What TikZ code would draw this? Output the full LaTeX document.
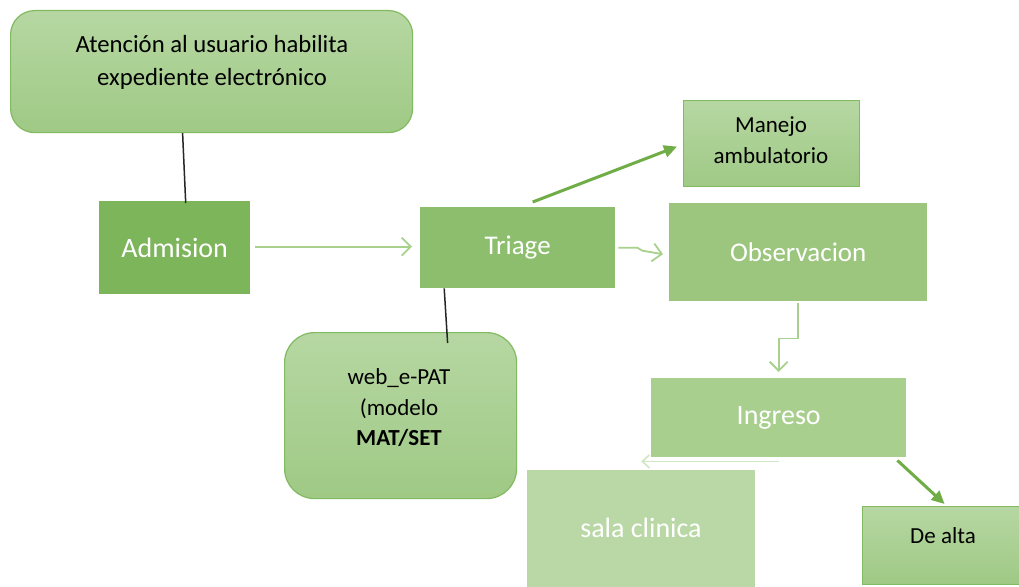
\documentclass[tikz,border=0pt]{standalone}
\usepackage{fontspec}
\setmainfont{Carlito}
\usetikzlibrary{arrows.meta}
\definecolor{gtop}{HTML}{B6D7A2}
\definecolor{gbot}{HTML}{9FC985}
\definecolor{gbord}{HTML}{82BA62}
\definecolor{cadm}{HTML}{7DB55A}
\definecolor{ctri}{HTML}{8CBE6E}
\definecolor{cobs}{HTML}{9CC67E}
\definecolor{cing}{HTML}{A9CF8F}
\definecolor{csal}{HTML}{B9D8A5}
\definecolor{darrow}{HTML}{70AD47}
\definecolor{larrow}{HTML}{A9D18E}
\definecolor{vlarrow}{HTML}{D2E6C5}
\tikzset{
  gbox/.style={draw=gbord, line width=1.2pt, top color=gtop, bottom color=gbot, inner sep=0pt},
  fbox/.style={inner sep=0pt, font=\fontsize{27}{32}\selectfont, text=white},
  btext/.style={font=\fontsize{23}{30.5}\selectfont, align=center, text=black},
  larr/.style={draw=larrow, line width=1.8pt, -{Straight Barb[length=9pt,width=18pt,line width=1.8pt]}},
  vlarr/.style={draw=vlarrow, line width=1.8pt, -{Straight Barb[length=7pt,width=13pt,line width=1.6pt]}},
  darr/.style={draw=darrow, line width=3pt, -{Triangle[length=13pt,width=12pt]}},
  bline/.style={draw=black!85, line width=1.5pt}
}
\begin{document}
\begin{tikzpicture}[x=1pt,y=-1pt]
\clip (0,0) rectangle (1019,586);
\fill[white] (0,0) rectangle (1019,586);
% boxes
\node[gbox, rounded corners=24pt, minimum width=402pt, minimum height=122pt, anchor=north west] (aten) at (10,10) {};
\node[btext, font=\fontsize{24.7}{33}\selectfont] (atent) at (212,62) {Atención al usuario habilita\\expediente electrónico};
\node[fbox, fill=cadm, minimum width=151pt, minimum height=93pt, anchor=north west, font=\fontsize{28}{32}\selectfont] (adm) at (99,201) {Admision};
\node[fbox, fill=ctri, minimum width=195pt, minimum height=81pt, anchor=north west] (tri) at (420,207) {Triage};
\node[gbox, rounded corners=30pt, minimum width=232pt, minimum height=166pt, anchor=north west] (web) at (284,332) {};
\node[btext] (webt) at (399,408) {web\_e-PAT\\(modelo\\\textbf{MAT/SET}};
\node[gbox, minimum width=176pt, minimum height=86pt, anchor=north west] (man) at (683,100) {};
\node[btext] (mant) at (771,140) {Manejo\\ambulatorio};
\node[fbox, fill=cobs, minimum width=258pt, minimum height=98pt, anchor=north west] (obs) at (669,203) {Observacion};
\node[fbox, fill=cing, minimum width=255pt, minimum height=79pt, anchor=north west, font=\fontsize{28}{32}\selectfont] (ing) at (651,378) {Ingreso};
\node[fbox, fill=csal, minimum width=228pt, minimum height=120pt, anchor=north west, font=\fontsize{28}{32}\selectfont] (sal) at (527,470) {};
\node[fbox, font=\fontsize{28}{32}\selectfont] (salt) at (641,528) {sala clinica};
\node[gbox, minimum width=164pt, minimum height=78pt, anchor=north west] (alta) at (862,506) {};
\node[btext] (altat) at (943,536) {De alta};
% connectors
\draw[bline] ([xshift=-29pt]aten.south) -- ([xshift=11pt,yshift=-2pt]adm.north);
\draw[bline] ([xshift=-73.5pt]tri.south) -- ([xshift=47pt,yshift=-11pt]web.north);
\coordinate (ae) at ([xshift=5pt,yshift=1pt]adm.east);
\draw[larr] (ae) -- ([xshift=-8pt]tri.west |- ae);
\draw[darr] ([xshift=15pt,yshift=5pt]tri.north) -- ([xshift=-6pt,yshift=-3pt]man.west);
\coordinate (tk) at ([xshift=22pt]tri.east);
\draw[larr] ([xshift=3pt]tri.east) -- (tk) -- ++(5,3) -- ([xshift=-6pt,yshift=-2pt]obs.west);
\draw[larr] ([yshift=-2pt]obs.south) -- ++(0,35) -| ([yshift=6pt]ing.north);
\coordinate (ib) at ([yshift=-4pt]ing.south);
\draw[vlarr] (ib) -- (sal.north |- ib);
\draw[darr] ([xshift=-9pt,yshift=-3pt]ing.south east) -- ([yshift=2pt]alta.north);
\end{tikzpicture}
\end{document}
